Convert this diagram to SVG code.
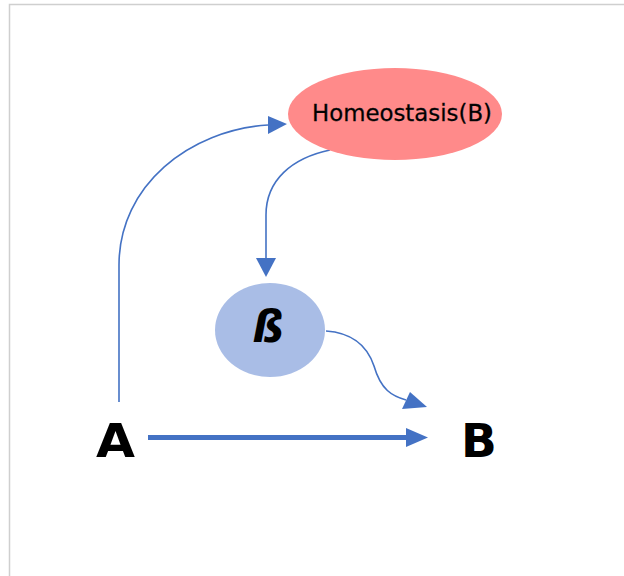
<svg xmlns="http://www.w3.org/2000/svg" width="624" height="576" viewBox="0 0 624 576">
<style>
.edge{fill:none;stroke:#4472C4;stroke-width:1.6}
.head{fill:#4472C4}
.lbl{font-family:"DejaVu Sans",sans-serif;fill:#000}
</style>
<rect x="0" y="0" width="624" height="576" fill="#fff"/>
<rect x="9.5" y="4.5" width="700" height="700" fill="none" stroke="#cfcfcf" stroke-width="1.5"/>
<g id="connectors">
<path class="edge" d="M119,402 L119,265 C119,185 190,130 268,125"/>
<polygon class="head" points="287,124 268,116 268,134"/>
<path class="edge" d="M330,150 C292,158 266,180 266,215 L266,259"/>
<polygon class="head" points="256,258 276,258 266,277"/>
<path class="edge" d="M326,331 C355,333 368,348 374,366 C381,390 392,396 406,400"/>
<polygon class="head" points="427,407 410,392 402,409"/>
<line x1="148" y1="437.5" x2="408" y2="437.5" stroke="#4472C4" stroke-width="5"/>
<polygon class="head" points="428,437.5 406,428 406,447"/>
</g>
<g id="homeostasis">
<ellipse cx="395" cy="114" rx="107" ry="46" fill="#FF8A8A"/>
<text class="lbl" x="402" y="121" font-size="23" text-anchor="middle" textLength="180" lengthAdjust="spacingAndGlyphs" fill="#111" stroke="#111" stroke-width="0.3">Homeostasis(B)</text>
</g>
<g id="beta">
<ellipse cx="270" cy="330" rx="55" ry="47" fill="#A9BDE6"/>
<text class="lbl" x="268" y="342" font-size="44" font-weight="bold" font-style="italic" text-anchor="middle">ß</text>
</g>
<g id="A">
<text class="lbl" x="96" y="457" font-size="47" font-weight="bold" textLength="39" lengthAdjust="spacingAndGlyphs">A</text>
</g>
<g id="B">
<text class="lbl" x="461" y="457" font-size="47" font-weight="bold">B</text>
</g>
</svg>
